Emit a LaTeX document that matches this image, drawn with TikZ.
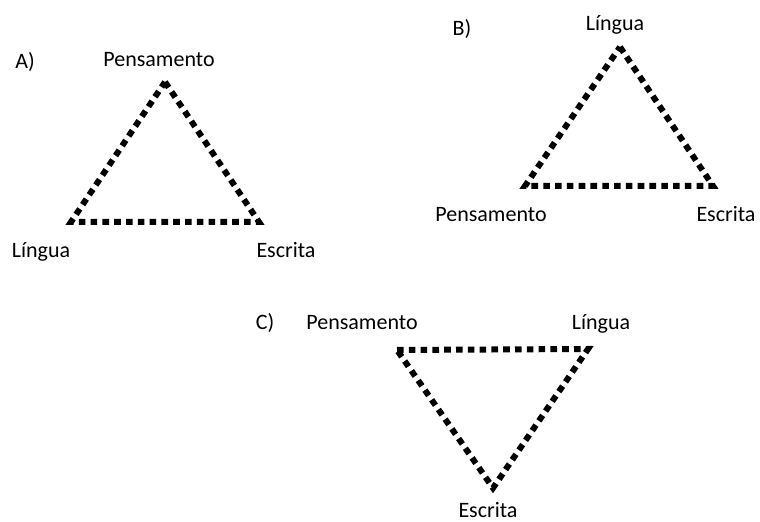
\documentclass[tikz,border=0pt]{standalone}
\usepackage{fontspec}
\setmainfont{Carlito}
\usepackage{tikz}

\tikzset{
  tri/.style={line width=3pt, dash pattern=on 3.3pt off 2.6pt},
  lbl/.style={anchor=base, font=\fontsize{11}{13}\selectfont},
}

\begin{document}
\begin{tikzpicture}[x=0.5pt, y=-0.5pt]
\useasboundingbox (0,0) rectangle (760,522);

% A) Pensamento on top
\coordinate (pA) at (165,82);
\coordinate (lA) at (71,222);
\coordinate (eA) at (259,222);
\draw[tri] (pA) -- (eA) -- (lA) -- cycle;
\node[lbl] (tA) at (25,69) {A)};
\node[lbl] (npA) at (159,67) {Pensamento};
\node[lbl] (nlA) at (41,258) {Língua};
\node[lbl] (neA) at (286,258) {Escrita};

% B) Lingua on top
\coordinate (lB) at (620,47);
\coordinate (pB) at (525,186);
\coordinate (eB) at (713,186);
\draw[tri] (lB) -- (eB) -- (pB) -- cycle;
\node[lbl] (tB) at (462,36) {B)};
\node[lbl] (nlB) at (615,31) {Língua};
\node[lbl] (npB) at (491,222) {Pensamento};
\node[lbl] (neB) at (726,222) {Escrita};

% C) upside down, Escrita at the bottom
\coordinate (pC) at (397,350);
\coordinate (lC) at (588,349);
\coordinate (eC) at (493,488);
\draw[tri] (pC) -- (lC) -- (eC) -- cycle;
\node[lbl] (tC) at (265,330) {C)};
\node[lbl] (npC) at (362,330) {Pensamento};
\node[lbl] (nlC) at (601,330) {Língua};
\node[lbl] (neC) at (488,518) {Escrita};
\end{tikzpicture}
\end{document}
